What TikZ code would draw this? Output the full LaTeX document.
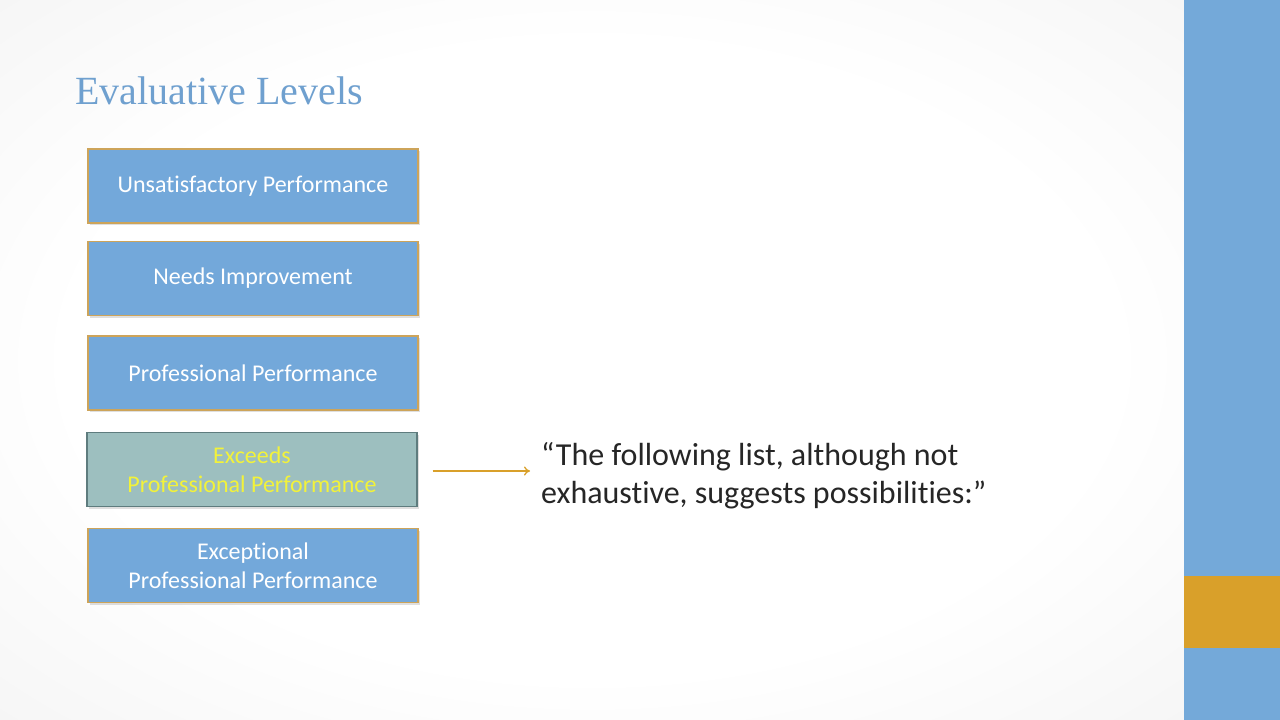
\documentclass[tikz,border=0pt]{standalone}
\usepackage{fontspec}
\setmainfont{Carlito}[Ligatures={NoCommon}]
\newfontfamily\titlefont{Liberation Serif}
\usetikzlibrary{shadows,arrows.meta}
\definecolor{slideblue}{HTML}{74A9D9}
\definecolor{boxblue}{HTML}{73A8DA}
\definecolor{gold}{HTML}{D9A02A}
\definecolor{boxedge}{HTML}{CDA45A}
\definecolor{titleblue}{HTML}{6FA0CF}
\definecolor{tealfill}{HTML}{9DBFBF}
\definecolor{tealborder}{HTML}{5E7C7E}
\definecolor{hiyellow}{HTML}{F2F23A}
\definecolor{quotetext}{HTML}{262626}
\pgfdeclareradialshading{slidebg}{\pgfpoint{0bp}{0bp}}{%
  color(0bp)=(white); color(22bp)=(white); color(45bp)=(black!6); color(71bp)=(black!10)}
\tikzset{
  levelbox/.style={draw=boxedge, line width=1.4pt, fill=boxblue, minimum width=330pt, minimum height=74pt,
    inner sep=0pt, align=center, text=white, font=\fontsize{24}{29}\selectfont,
    drop shadow={shadow xshift=2pt, shadow yshift=-2pt, opacity=0.25}},
  hibox/.style={levelbox, draw=tealborder, fill=tealfill, text=hiyellow},
  goldarrow/.style={draw=gold, line width=1.3pt, -{To[length=6pt,width=9pt]}}
}
\begin{document}
\begin{tikzpicture}[x=1pt,y=-1pt]
\useasboundingbox (0,0) rectangle (1280,720);
\shade[shading=slidebg] (0,0) rectangle (1184,720);
\fill[slideblue] (1184,0) rectangle (1280,720);
\fill[gold] (1184,576) rectangle (1280,648);
\node[anchor=base west, text=titleblue, font=\titlefont\fontsize{40}{44}\selectfont, inner sep=0pt] (title) at (75,104) {Evaluative Levels};
\node[levelbox] (b1) at (253,186) {Unsatisfactory Performance};
\node[levelbox] (b2) at (253,278.5) {Needs Improvement};
\node[levelbox] (b3) at (253,373) {Professional Performance};
\node[hibox] (b4) at (252,469.5) {Exceeds\\Professional Performance};
\node[levelbox] (b5) at (253,565.5) {Exceptional\\Professional Performance};
\node[anchor=base west, align=left, text=quotetext, font=\fontsize{32}{38}\selectfont, inner sep=0pt] (q) at (541,503) {``The following list, although not\\exhaustive, suggests possibilities:''};
\coordinate (qa) at (530,471);
\draw[goldarrow] (b4.east) ++(15,1.5) coordinate (as) (as) -- (qa);
\end{tikzpicture}
\end{document}
